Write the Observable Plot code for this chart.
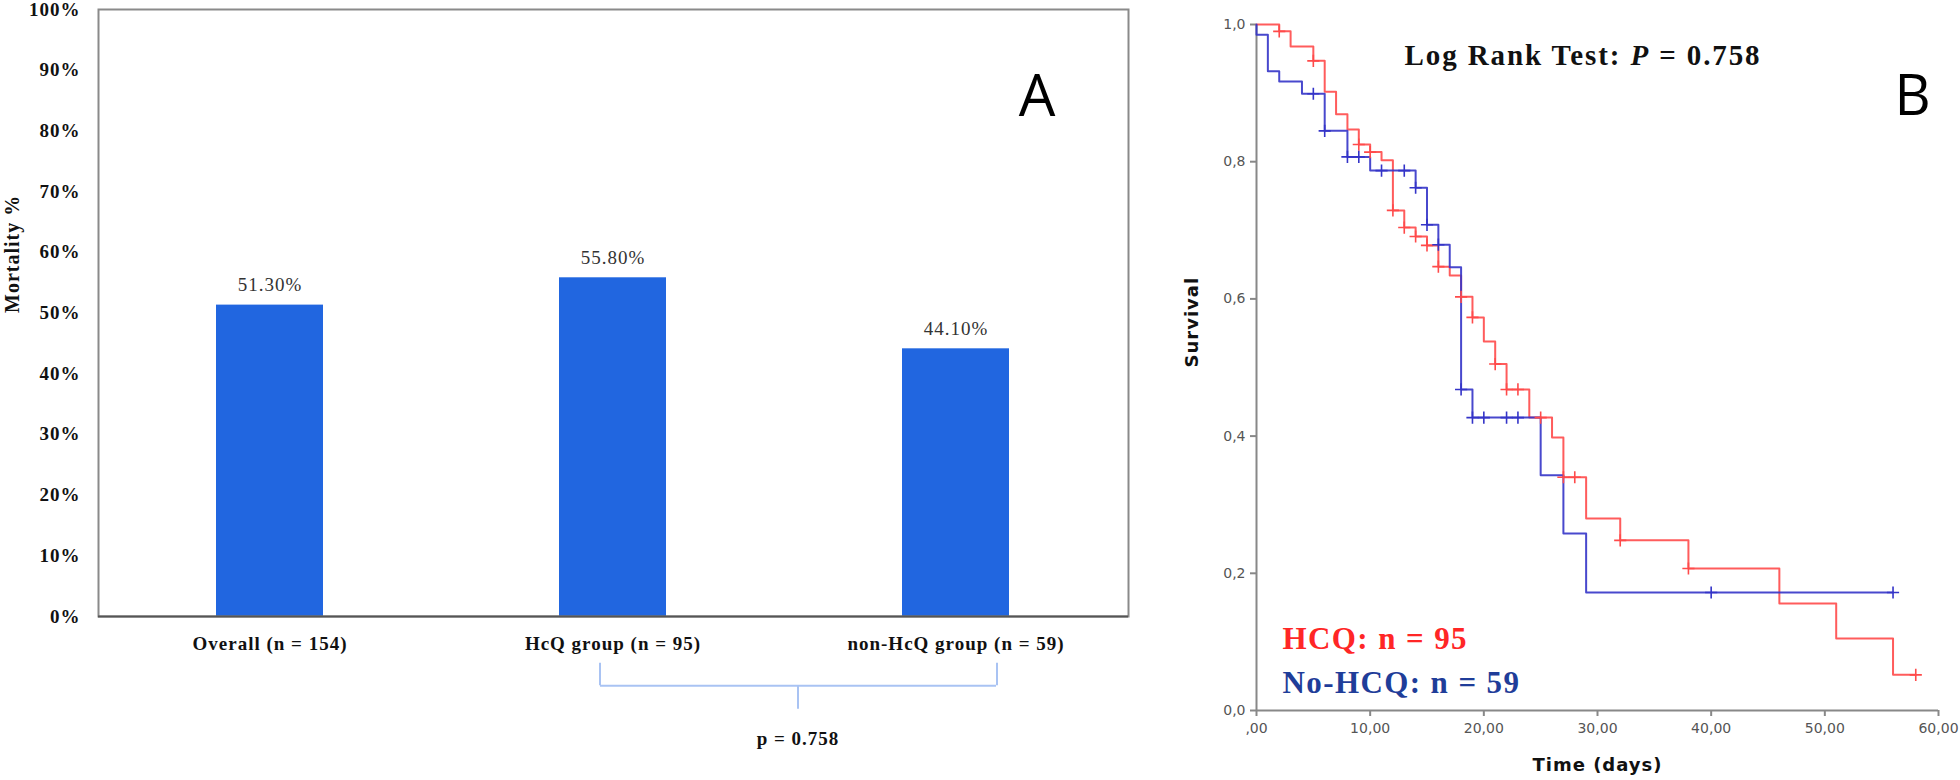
<!DOCTYPE html>
<html><head><meta charset="utf-8">
<script src="https://cdn.jsdelivr.net/npm/d3@7"></script>
<script src="https://cdn.jsdelivr.net/npm/@observablehq/plot@0.6"></script>
<style>
html,body{margin:0;padding:0;background:#fff;}
#wrap{position:relative;width:1960px;height:780px;overflow:hidden;background:#fff;}
#a{position:absolute;left:0;top:0;}
#b{position:absolute;left:1150px;top:0;}
#title{position:absolute;left:1583px;top:55px;transform:translate(-50%,-50%);white-space:nowrap;
  font-family:'Liberation Serif','Times New Roman',serif;font-weight:bold;font-size:29px;letter-spacing:1.9px;color:#111;}
</style></head><body>
<div id="wrap"><div id="a"></div><div id="b"></div><div id="title">Log Rank Test: <i>P</i> = 0.758</div></div>
<script>
// ---- Panel A data ----
const groups = ["Overall (n = 154)", "HcQ group (n = 95)", "non-HcQ group (n = 59)"];
const mortality = [51.3, 55.8, 44.1];
const mortalityLabels = ["51.30%", "55.80%", "44.10%"];
const yTicksA = [0, 10, 20, 30, 40, 50, 60, 70, 80, 90, 100];
const pValueText = "p = 0.758";

// ---- Panel B data (Kaplan-Meier) ----
const hcqTime = [0, 2, 3, 5, 6, 7, 8, 9, 10, 11, 12, 13, 14, 15, 16, 17, 18, 19, 20, 21, 22, 24, 26, 27, 29, 32, 38, 46, 51, 56, 58];
const hcqSurv = [1.0, 0.990, 0.968, 0.947, 0.902, 0.869, 0.847, 0.825, 0.814, 0.802, 0.729, 0.704, 0.691, 0.678, 0.647, 0.634, 0.603, 0.573, 0.538, 0.505, 0.468, 0.427, 0.398, 0.340, 0.280, 0.248, 0.207, 0.156, 0.105, 0.052, 0.052];
const hcqCensorTime = [2, 5, 9, 10, 12, 13, 14, 15, 16, 18, 19, 21, 22, 23, 25, 27, 28, 32, 38, 58];

const noTime = [0, 0, 1, 2, 4, 6, 8, 10, 14, 15, 16, 17, 18, 19, 25, 27, 29, 56];
const noSurv = [1.0, 0.985, 0.932, 0.917, 0.899, 0.845, 0.807, 0.787, 0.762, 0.708, 0.679, 0.646, 0.468, 0.427, 0.343, 0.258, 0.172, 0.172];
const noCensorTime = [5, 6, 8, 9, 11, 13, 14, 15, 16, 18, 19, 20, 22, 23, 40, 56];

const xTicksB = [0, 10, 20, 30, 40, 50, 60];
const yTicksB = [0, 0.2, 0.4, 0.6, 0.8, 1.0];
const legendHcq = "HCQ: n = 95";
const legendNo = "No-HCQ: n = 59";

const serif = "'Liberation Serif','Times New Roman',serif";
const sans = "'DejaVu Sans',Verdana,sans-serif";

// ---- Panel A ----
const dataA = groups.map((g, i) => ({group: g, value: mortality[i], label: mortalityLabels[i]}));
const braceFrom = groups[1], braceTo = groups[2];
const braceColor = "#a9c3f3";

const plotA = Plot.plot({
  width: 1150, height: 780,
  marginLeft: 98, marginRight: 22, marginTop: 9, marginBottom: 164,
  x: {domain: groups, paddingInner: 0.688, paddingOuter: 0.344},
  y: {domain: [0, 100]},
  style: {fontFamily: serif, background: "white", overflow: "visible", letterSpacing: "1px"},
  marks: [
    Plot.barY(dataA, {x: "group", y: "value", fill: "#2166e0"}),
    Plot.frame({stroke: "#8a8a8a", strokeWidth: 2}),
    Plot.ruleY([0], {stroke: "#555", strokeWidth: 2}),
    Plot.axisY({ticks: yTicksA, tickFormat: d => d + "%", tickSize: 0, tickPadding: 18, fontSize: 19, fontWeight: "bold", fill: "#111", label: null}),
    Plot.axisX({tickSize: 0, tickPadding: 20, fontSize: 19, fontWeight: "bold", fill: "#111", label: null}),
    Plot.text(dataA, {x: "group", y: "value", text: "label", dy: -20, fontSize: 19, fill: "#333", lineAnchor: "middle"}),
    Plot.text(["Mortality %"], {frameAnchor: "left", dx: -86, rotate: -90, fontSize: 20, fontWeight: "bold", fill: "#111"}),
    Plot.text(["A"], {frameAnchor: "top-right", dx: -91, dy: 88, fontSize: 58, fontFamily: "'Open Sans',sans-serif", lineAnchor: "middle", textAnchor: "middle", fill: "#000"}),
    // brace
    Plot.ruleX([braceFrom], {y1: -7.7, y2: -11.4, dx: -13, stroke: braceColor, strokeWidth: 2}),
    Plot.ruleX([braceTo], {y1: -7.7, y2: -11.4, dx: 41, stroke: braceColor, strokeWidth: 2}),
    Plot.ruleY([-11.4], {x1: () => braceFrom, x2: () => braceTo, insetLeft: 41, insetRight: 13, stroke: braceColor, strokeWidth: 2}),
    Plot.ruleX([braceFrom], {y1: -11.4, y2: -15.3, dx: 185, stroke: braceColor, strokeWidth: 2}),
    Plot.text([braceFrom], {x: d => d, y: () => -20.1, text: () => pValueText, dx: 185, fontSize: 19, fontWeight: "bold", fill: "#111", lineAnchor: "middle"})
  ]
});
document.getElementById("a").appendChild(plotA);

// ---- Panel B ----
function survAt(times, surv, t) {
  let s = surv[0];
  for (let i = 0; i < times.length; i++) if (times[i] <= t) s = surv[i];
  return s;
}
const hcq = hcqTime.map((t, i) => ({t, s: hcqSurv[i]}));
const noHcq = noTime.map((t, i) => ({t, s: noSurv[i]}));
const hcqCens = hcqCensorTime.map(t => ({t, s: survAt(hcqTime, hcqSurv, t)}));
const noCens = noCensorTime.map(t => ({t, s: survAt(noTime, noSurv, t)}));
const red = "#ff4a4a", blue = "#3434c8";

const plotB = Plot.plot({
  width: 810, height: 780,
  marginLeft: 106, marginRight: 22, marginTop: 24, marginBottom: 70,
  x: {domain: [0, 60]},
  y: {domain: [0, 1]},
  style: {fontFamily: sans, background: "white", overflow: "visible"},
  marks: [
    Plot.ruleX([0], {stroke: "#888", strokeWidth: 2}),
    Plot.ruleY([0], {stroke: "#888", strokeWidth: 2}),
    Plot.axisY({ticks: yTicksB, tickFormat: d => d.toFixed(1).replace(".", ","), tickSize: 6, tickPadding: 5, fontSize: 14, fill: "#555", stroke: "#888", strokeWidth: 2, label: null}),
    Plot.axisX({ticks: xTicksB, tickFormat: d => d === 0 ? ",00" : d + ",00", tickSize: 6, tickPadding: 7, fontSize: 14, fill: "#555", stroke: "#888", strokeWidth: 2, label: null}),
    Plot.line(hcq, {x: "t", y: "s", curve: "step-after", stroke: red, strokeWidth: 2, strokeOpacity: 0.9}),
    Plot.line(noHcq, {x: "t", y: "s", curve: "step-after", stroke: blue, strokeWidth: 2, strokeOpacity: 0.9}),
    Plot.dot(hcqCens, {x: "t", y: "s", symbol: "plus", r: 4, stroke: red, strokeWidth: 1.6}),
    Plot.dot(noCens, {x: "t", y: "s", symbol: "plus", r: 4, stroke: blue, strokeWidth: 1.6}),
    Plot.text(["Survival"], {frameAnchor: "left", dx: -64, rotate: -90, fontSize: 18, fontWeight: "bold", fill: "#111"}),
    Plot.text(["Time (days)"], {frameAnchor: "bottom", dy: 55, fontSize: 18, fontWeight: "bold", fill: "#111", lineAnchor: "middle"}),
    Plot.text(["B"], {frameAnchor: "top-right", dx: -26, dy: 73, fontSize: 56, fontFamily: "'Open Sans',sans-serif", lineAnchor: "middle", textAnchor: "middle", fill: "#000"}),
    Plot.text([legendHcq], {frameAnchor: "bottom-left", dx: 26, dy: -62, textAnchor: "start", lineAnchor: "bottom", fontSize: 31, fontWeight: "bold", fontFamily: serif, fill: "#ff2626"}),
    Plot.text([legendNo], {frameAnchor: "bottom-left", dx: 26, dy: -18, textAnchor: "start", lineAnchor: "bottom", fontSize: 31, fontWeight: "bold", fontFamily: serif, fill: "#1f3d99"})
  ]
});
document.getElementById("b").appendChild(plotB);
// wider letter spacing on the panel B titles and legend, as in the reference
d3.select(plotB).selectAll("text")
  .filter(function () { return ["Survival", "Time (days)"].includes(this.textContent); })
  .attr("letter-spacing", "1px");
d3.select(plotB).selectAll("text")
  .filter(function () { return [legendHcq, legendNo].includes(this.textContent); })
  .attr("letter-spacing", "1.4px");
</script>
</body></html>
